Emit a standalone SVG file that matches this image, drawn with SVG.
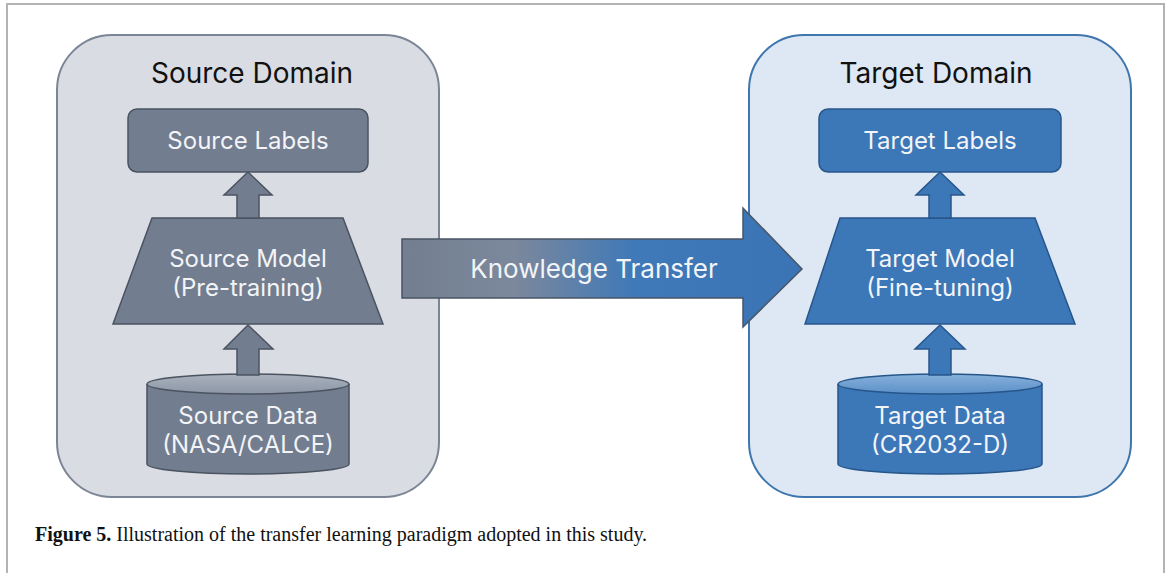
<svg xmlns="http://www.w3.org/2000/svg" width="1170" height="573" viewBox="0 0 1170 573">
<defs>
<linearGradient id="kt" x1="402" y1="0" x2="802" y2="0" gradientUnits="userSpaceOnUse">
<stop offset="0" stop-color="#737e90"/>
<stop offset="0.28" stop-color="#7c889c"/>
<stop offset="0.58" stop-color="#3f79b8"/>
<stop offset="1" stop-color="#3a74b5"/>
</linearGradient>
<linearGradient id="capS" x1="0" y1="0" x2="0" y2="1">
<stop offset="0" stop-color="#a9b1bd"/>
<stop offset="1" stop-color="#8d97a6"/>
</linearGradient>
<linearGradient id="capT" x1="0" y1="0" x2="0" y2="1">
<stop offset="0" stop-color="#86b0db"/>
<stop offset="1" stop-color="#5d91c9"/>
</linearGradient>
</defs>
<style>
.frame{fill:none;stroke:#b3b3b3;stroke-width:2}
.sbox{fill:#d9dde3;stroke:#7b8595;stroke-width:2}
.tbox{fill:#dde8f4;stroke:#3f76ae;stroke-width:2}
.title{font-family:Inter,"Liberation Sans",sans-serif;font-size:28px;fill:#111;text-anchor:middle}
.lbl{font-family:Inter,"Liberation Sans",sans-serif;font-size:24px;fill:#f2f4f7;text-anchor:middle}
.sn{fill:#727d8f;stroke:#4b5361;stroke-width:1.5}
.tn{fill:#3c77b8;stroke:#27568a;stroke-width:1.5}
.cap{font-family:"Liberation Serif",serif;font-size:20px;fill:#111}
</style>
<path class="frame" d="M7,573 V4 H1164 V573"/>
<g id="source-domain">
<rect class="sbox" x="57" y="35" width="382" height="462" rx="55"/>
<text class="title" x="252" y="83">Source Domain</text>
</g>
<g id="target-domain">
<rect class="tbox" x="749" y="35" width="382" height="462" rx="55"/>
<text class="title" x="936" y="83">Target Domain</text>
</g>
<g id="source-labels">
<rect class="sn" x="128" y="109" width="240" height="63" rx="9"/>
<text class="lbl" x="248" y="149">Source Labels</text>
</g>
<g id="source-model">
<polygon class="sn" points="152,218 343,218 383,324 113,324"/>
<text class="lbl" x="248" y="267">Source Model</text>
<text class="lbl" x="248" y="296">(Pre-training)</text>
</g>
<g id="source-data">
<path class="sn" d="M147,384 V464 A101,10 0 0 0 349,464 V384"/>
<ellipse cx="248" cy="384" rx="101" ry="10" fill="url(#capS)" stroke="#4b5361" stroke-width="1.5"/>
<text class="lbl" x="248" y="424">Source Data</text>
<text class="lbl" x="248" y="453">(NASA/CALCE)</text>
</g>
<g id="target-labels">
<rect class="tn" x="819" y="109" width="242" height="63" rx="9"/>
<text class="lbl" x="940" y="149">Target Labels</text>
</g>
<g id="target-model">
<polygon class="tn" points="840,218 1035,218 1075,324 805,324"/>
<text class="lbl" x="940" y="267">Target Model</text>
<text class="lbl" x="940" y="296">(Fine-tuning)</text>
</g>
<g id="target-data">
<path class="tn" d="M838,384 V464 A102,10 0 0 0 1042,464 V384"/>
<ellipse cx="940" cy="384" rx="102" ry="10" fill="url(#capT)" stroke="#27568a" stroke-width="1.5"/>
<text class="lbl" x="940" y="424">Target Data</text>
<text class="lbl" x="940" y="453">(CR2032-D)</text>
</g>
<g id="connectors">
<polygon class="sn" points="248,172 272,195 259,195 259,218 237,218 237,195 224,195"/>
<polygon class="sn" points="248,325 273,349 259,349 259,375 237,375 237,349 224,349"/>
<polygon class="tn" points="940,172 964,195 951,195 951,218 929,218 929,195 916,195"/>
<polygon class="tn" points="940,325 965,349 951,349 951,375 929,375 929,349 915,349"/>
<polygon points="402,239 743,239 743,208 802,269 743,327 743,298 402,298" fill="url(#kt)" stroke="#4a5566" stroke-width="1.5"/>
<text class="lbl" x="594" y="278" style="font-size:26px">Knowledge Transfer</text>
</g>
<text class="cap" x="35" y="541"><tspan font-weight="bold">Figure 5.</tspan> Illustration of the transfer learning paradigm adopted in this study.</text>
</svg>
